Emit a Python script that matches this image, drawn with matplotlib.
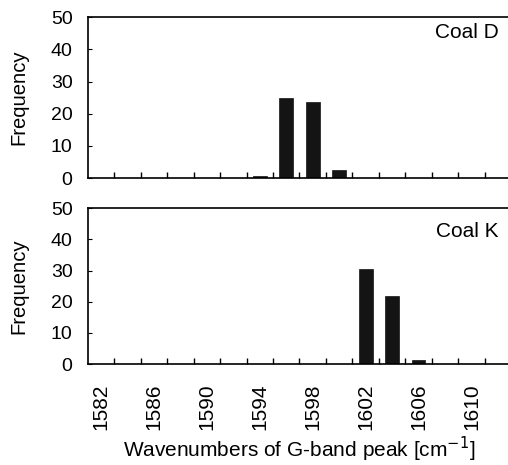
import matplotlib
matplotlib.use("Agg")
import matplotlib.pyplot as plt

plt.rcParams['font.family'] = ['Liberation Sans', 'DejaVu Sans']

# G-band peak position bins [cm-1]
wavenumbers = [1582, 1584, 1586, 1588, 1590, 1592, 1594, 1596,
               1598, 1600, 1602, 1604, 1606, 1608, 1610, 1612]
coal_d = [0, 0, 0, 0, 0, 0, 0.5, 25, 23.5, 2.5, 0, 0, 0, 0, 0, 0]
coal_k = [0, 0, 0, 0, 0, 0, 0, 0, 0, 0, 30.5, 21.8, 1.2, 0, 0, 0]
xlabels = [1582, 1586, 1590, 1594, 1598, 1602, 1606, 1610]
bin_edges = [w + 1 for w in wavenumbers[:-1]]

fig = plt.figure(figsize=(5.08, 4.65), dpi=100)
ax1 = fig.add_axes([0.173, 0.617, 0.833, 0.346])
ax2 = fig.add_axes([0.173, 0.217, 0.833, 0.335])

for ax, vals, name, ty in [(ax1, coal_d, "Coal D", 0.905), (ax2, coal_k, "Coal K", 0.85)]:
    ax.bar(wavenumbers, vals, width=1.05, color='#141414', edgecolor='#141414', linewidth=0.5)
    ax.set_xlim(1581, 1613)
    ax.set_ylim(0, 50)
    ax.set_yticks([0, 10, 20, 30, 40, 50])
    ax.tick_params(axis='y', direction='in', length=3, labelsize=14, pad=11)
    ax.set_xticks(xlabels)
    ax.set_xticks(bin_edges, minor=True)
    ax.tick_params(axis='x', which='major', length=0, labelsize=15, pad=14)
    ax.tick_params(axis='x', which='minor', direction='in', length=4, width=1)
    ax.spines['right'].set_visible(False)
    for s in ['left', 'top', 'bottom']:
        ax.spines[s].set_linewidth(1.2)
    ax.set_ylabel("Frequency", fontsize=14.6)
    ax.yaxis.set_label_coords(-0.14, 0.5)
    ax.text(0.971, ty, name, transform=ax.transAxes, ha='right', va='center', fontsize=15)

ax1.tick_params(axis='x', which='major', labelbottom=False)
ax2.set_xticklabels([str(v) for v in xlabels], rotation=90)
ax2.set_xlabel("Wavenumbers of G-band peak [cm$^{-1}$]", fontsize=15)
ax2.xaxis.set_label_coords(0.5, -0.455)

fig.savefig("out.png", dpi=100)
